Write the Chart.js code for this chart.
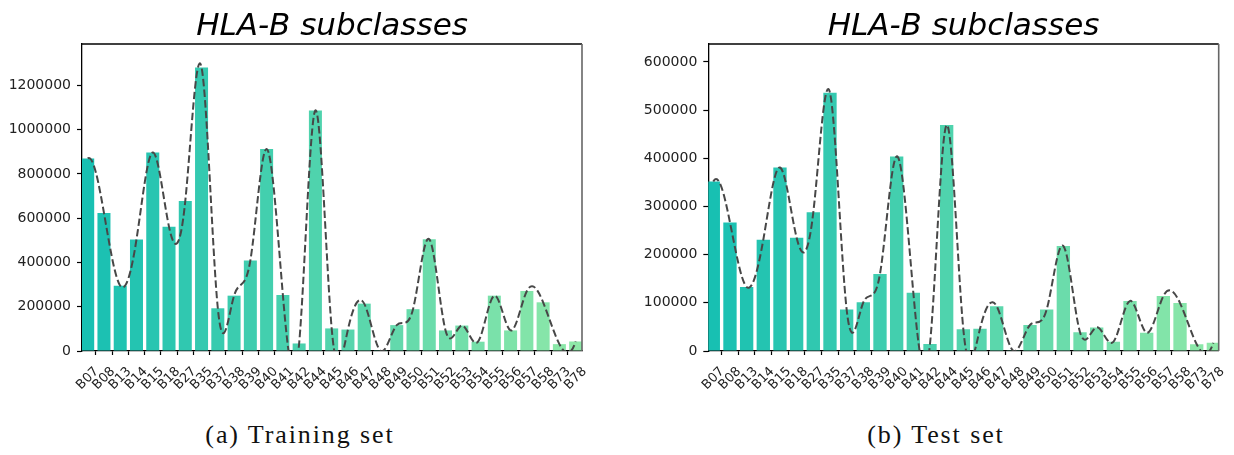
<!DOCTYPE html>
<html>
<head>
<meta charset="utf-8">
<script src="https://cdn.jsdelivr.net/npm/chart.js@4.4.1/dist/chart.umd.min.js"></script>
<style>
  html, body { margin: 0; padding: 0; background: #ffffff; }
  body { width: 1234px; height: 455px; position: relative; overflow: hidden; }
  .panel { position: absolute; top: 0; width: 617px; height: 410px; }
  .caption {
    position: absolute; top: 422px; width: 300px; text-align: center;
    font-family: "Liberation Serif", serif; font-size: 26px; line-height: 26px;
    letter-spacing: 1.9px; color: #111;
  }
</style>
</head>
<body>
<div class="panel" style="left:0"><canvas id="train" width="617" height="410"></canvas></div>
<div class="panel" style="left:617px"><canvas id="test" width="617" height="410"></canvas></div>
<div class="caption" style="left:150px">(a) Training set</div>
<div class="caption" style="left:786px">(b) Test set</div>
<script>
// HLA-B subclass counts per split
const categories = ['B07', 'B08', 'B13', 'B14', 'B15', 'B18', 'B27', 'B35', 'B37', 'B38', 'B39',
  'B40', 'B41', 'B42', 'B44', 'B45', 'B46', 'B47', 'B48', 'B49', 'B50', 'B51', 'B52', 'B53',
  'B54', 'B55', 'B56', 'B57', 'B58', 'B73', 'B78'];

const trainCounts = [870000, 624000, 295000, 504000, 897000, 561000, 678000, 1281000, 193000,
  250000, 409000, 913000, 253000, 34000, 1087000, 102000, 97000, 214000, 1000, 117000, 189000,
  505000, 93000, 115000, 42000, 250000, 93000, 271000, 220000, 31000, 43000];

const testCounts = [352000, 267000, 133000, 231000, 381000, 235000, 288000, 536000, 86000,
  101000, 160000, 404000, 121000, 14500, 469000, 45000, 46000, 93000, 500, 54000, 86000,
  218000, 39000, 49000, 19000, 104000, 38000, 114000, 99500, 14000, 17000];

const trainYTicks = [0, 200000, 400000, 600000, 800000, 1000000, 1200000];
const testYTicks = [0, 100000, 200000, 300000, 400000, 500000, 600000];

const titleText = 'HLA-B subclasses';

Chart.defaults.font.family = '"DejaVu Sans", sans-serif';
Chart.defaults.color = '#222';
Chart.defaults.animation = false;

// teal -> light green ramp across the subclasses
function barColors(n) {
  const a = [24, 192, 178], b = [142, 232, 168];
  const out = [];
  for (let i = 0; i < n; i++) {
    const t = n > 1 ? i / (n - 1) : 0;
    const c = a.map((v, k) => Math.round(v + (b[k] - v) * t));
    out.push(`rgb(${c[0]},${c[1]},${c[2]})`);
  }
  return out;
}

// Slopes of a not-a-knot cubic spline through evenly spaced points
function splineSlopes(xs, ys) {
  const n = xs.length;
  const h = (xs[n - 1] - xs[0]) / (n - 1);
  const A = Array.from({ length: n }, () => new Array(n).fill(0));
  const r = new Array(n).fill(0);
  A[0][0] = 1; A[0][1] = -2; A[0][2] = 1;
  A[n - 1][n - 3] = 1; A[n - 1][n - 2] = -2; A[n - 1][n - 1] = 1;
  for (let i = 1; i < n - 1; i++) {
    A[i][i - 1] = 1; A[i][i] = 4; A[i][i + 1] = 1;
    r[i] = 6 * (ys[i + 1] - 2 * ys[i] + ys[i - 1]) / (h * h);
  }
  // Gaussian elimination with partial pivoting
  for (let c = 0; c < n; c++) {
    let p = c;
    for (let k = c + 1; k < n; k++) if (Math.abs(A[k][c]) > Math.abs(A[p][c])) p = k;
    [A[c], A[p]] = [A[p], A[c]]; [r[c], r[p]] = [r[p], r[c]];
    for (let k = c + 1; k < n; k++) {
      const f = A[k][c] / A[c][c];
      if (!f) continue;
      for (let j = c; j < n; j++) A[k][j] -= f * A[c][j];
      r[k] -= f * r[c];
    }
  }
  const M = new Array(n).fill(0);
  for (let c = n - 1; c >= 0; c--) {
    let s = r[c];
    for (let j = c + 1; j < n; j++) s -= A[c][j] * M[j];
    M[c] = s / A[c][c];
  }
  const m = new Array(n);
  for (let i = 0; i < n - 1; i++) m[i] = (ys[i + 1] - ys[i]) / h - h * (2 * M[i] + M[i + 1]) / 6;
  m[n - 1] = (ys[n - 1] - ys[n - 2]) / h + h * (M[n - 2] + 2 * M[n - 1]) / 6;
  return { m, h };
}

// Cubic-spline bezier handles for the dashed trend line
const splinePlugin = {
  id: 'splineCurve',
  beforeDatasetDraw(chart, args) {
    const meta = args.meta;
    if (meta.type !== 'line' || !meta.dataset) return;
    const pts = meta.data;
    const xs = pts.map(p => p.x), ys = pts.map(p => p.y);
    const { m, h } = splineSlopes(xs, ys);
    for (let i = 0; i < pts.length; i++) {
      pts[i].cp1x = xs[i] - h / 3; pts[i].cp1y = ys[i] - m[i] * h / 3;
      pts[i].cp2x = xs[i] + h / 3; pts[i].cp2y = ys[i] + m[i] * h / 3;
    }
    meta.dataset._pointsUpdated = true;
    delete meta.dataset._path;
  }
};

// top and right frame lines around the plot area
const framePlugin = {
  id: 'frame',
  afterDraw(chart) {
    const { ctx, chartArea: a } = chart;
    ctx.save();
    ctx.lineWidth = 1.3;
    ctx.strokeStyle = '#000';
    ctx.beginPath();
    ctx.moveTo(a.left, a.top);
    ctx.lineTo(a.right, a.top);
    ctx.stroke();
    ctx.strokeStyle = '#666';
    ctx.lineWidth = 1.6;
    ctx.beginPath();
    ctx.moveTo(a.right, a.top);
    ctx.lineTo(a.right, a.bottom);
    ctx.stroke();
    ctx.restore();
  }
};

function makeChart(id, values, yTicks, yMax, xMin, xMax, yAxisWidth, padRight) {
  const points = values.map((v, i) => ({ x: i, y: v }));
  return new Chart(document.getElementById(id), {
    data: {
      datasets: [
        {
          type: 'line',
          data: points,
          borderColor: '#474747',
          borderWidth: 2,
          borderDash: [7.4, 3.2],
          tension: 0.4,
          capBezierPoints: false,
          pointRadius: 0,
          fill: false,
          order: 0
        },
        {
          type: 'bar',
          data: points,
          backgroundColor: barColors(values.length),
          borderWidth: 0,
          barPercentage: 0.8,
          categoryPercentage: 1.0,
          order: 1
        }
      ]
    },
    options: {
      responsive: false,
      animation: false,
      layout: { padding: { left: 0, right: padRight, top: 0, bottom: 0 } },
      plugins: {
        legend: { display: false },
        tooltip: { enabled: false },
        title: {
          display: true,
          fullSize: false,
          text: titleText,
          color: '#000',
          font: { size: 31, style: 'italic', weight: 'normal', lineHeight: 1.0 },
          padding: { top: 11, bottom: 2 }
        }
      },
      scales: {
        x: {
          type: 'linear',
          min: xMin,
          max: xMax,
          offset: false,
          grid: { drawOnChartArea: false, drawTicks: true, tickLength: 4, tickColor: '#000', tickWidth: 1.2 },
          border: { display: true, color: '#000', width: 1.3 },
          afterBuildTicks(scale) { scale.ticks = categories.map((_, i) => ({ value: i })); },
          ticks: {
            autoSkip: false,
            minRotation: 45,
            maxRotation: 45,
            padding: 9,
            labelOffset: 9,
            font: { size: 13 },
            color: '#222',
            callback: (v) => categories[v]
          },
          afterFit(scale) { scale.height = 59; }
        },
        y: {
          min: 0,
          max: yMax,
          grid: { drawOnChartArea: false, drawTicks: true, tickLength: 5, tickColor: '#000', tickWidth: 1.2 },
          border: { display: true, color: '#000', width: 1.3 },
          afterBuildTicks(scale) { scale.ticks = yTicks.map(v => ({ value: v })); },
          ticks: { padding: 6, font: { size: 14 }, color: '#222', callback: (v) => String(v) },
          afterFit(scale) { scale.width = yAxisWidth; }
        }
      }
    },
    plugins: [splinePlugin, framePlugin]
  });
}

makeChart('train', trainCounts, trainYTicks, 1387000, -0.35, 30.39, 82, 35);
makeChart('test', testCounts, testYTicks, 637300, -0.3, 30.32, 91.3, 15.3);
</script>
</body>
</html>
